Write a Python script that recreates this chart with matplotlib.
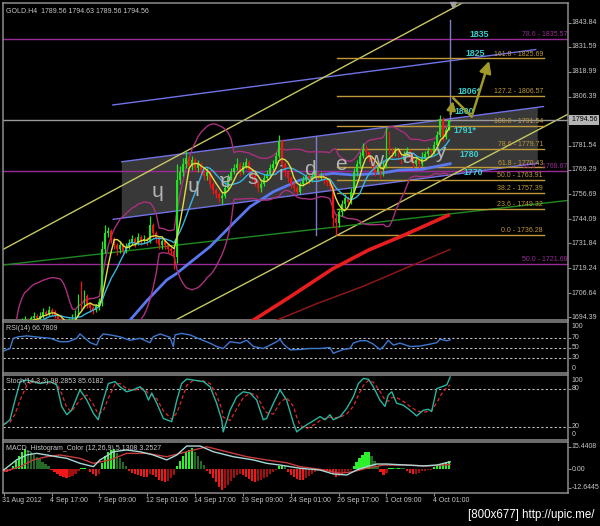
import numpy as np
import pandas as pd
import matplotlib
matplotlib.use("Agg")
import matplotlib.pyplot as plt
import matplotlib.transforms as mtrans

plt.rcParams['font.family'] = ['Liberation Sans', 'DejaVu Sans']
SMALL = 5.0

# ---------------- data (H4 bars, bar 0 = 31 Aug 2012 01:00) ----------------
open_first = 1659.0
closes = [1658, 1657, 1661, 1673, 1688, 1691, 1692, 1693, 1691, 1694,
          1695, 1694, 1695, 1697, 1696, 1698, 1697, 1695, 1693, 1692,
          1690, 1691, 1693, 1695, 1696, 1703, 1700, 1705, 1701, 1699,
          1698, 1700, 1702, 1729, 1737, 1738, 1734, 1731, 1729, 1731,
          1728, 1730, 1732, 1734, 1732, 1735, 1733, 1734, 1733, 1741,
          1737, 1734, 1731, 1733, 1731, 1729, 1728, 1725, 1764, 1768,
          1772, 1775, 1771, 1774, 1770, 1772, 1769, 1766, 1768, 1762,
          1759, 1757, 1755, 1756, 1760, 1765, 1768, 1770, 1772, 1768,
          1771, 1773, 1769, 1766, 1763, 1760, 1762, 1765, 1767, 1770,
          1772, 1776, 1784, 1772, 1768, 1765, 1762, 1760, 1758, 1762,
          1764, 1766, 1764, 1766, 1767, 1765, 1766, 1764, 1763, 1761,
          1745, 1742, 1748, 1752, 1755, 1753, 1758, 1768, 1772, 1776,
          1780, 1778, 1775, 1771, 1768, 1770, 1767, 1772, 1788, 1779,
          1777, 1779, 1776, 1774, 1777, 1779, 1775, 1772, 1774, 1772,
          1775, 1777, 1779, 1778, 1782, 1787, 1795, 1786, 1789.56, 1794.56]
highs = [1661, 1659, 1662, 1676, 1691, 1693, 1694, 1695, 1694, 1695,
         1697, 1696, 1697, 1699, 1698, 1700, 1699, 1698, 1696, 1694,
         1693, 1692, 1694, 1696, 1698, 1706, 1713, 1708, 1706, 1702,
         1700, 1701, 1704, 1733, 1741, 1740, 1739, 1735, 1732, 1733,
         1732, 1732, 1734, 1736, 1735, 1737, 1736, 1736, 1735, 1746,
         1742, 1738, 1735, 1734, 1734, 1732, 1730, 1730, 1772, 1771,
         1775, 1779, 1776, 1776, 1775, 1774, 1773, 1770, 1770, 1769,
         1763, 1760, 1758, 1758, 1762, 1767, 1770, 1772, 1775, 1773,
         1773, 1775, 1774, 1770, 1767, 1764, 1764, 1767, 1769, 1772,
         1774, 1778, 1787, 1785, 1773, 1769, 1766, 1763, 1761, 1763,
         1766, 1767, 1767, 1768, 1769, 1768, 1768, 1767, 1765, 1764,
         1762, 1747, 1750, 1754, 1757, 1756, 1760, 1770, 1774, 1778,
         1783, 1782, 1779, 1776, 1772, 1772, 1771, 1774, 1791, 1789,
         1781, 1781, 1780, 1777, 1779, 1781, 1780, 1776, 1776, 1775,
         1778, 1779, 1781, 1780, 1784, 1789, 1797, 1796, 1791, 1794.63]
lows = [1656, 1655, 1656, 1660, 1671, 1687, 1690, 1691, 1690, 1690,
        1693, 1693, 1693, 1694, 1695, 1695, 1695, 1694, 1692, 1690,
        1688, 1689, 1690, 1692, 1694, 1695, 1698, 1699, 1699, 1697,
        1696, 1697, 1698, 1700, 1727, 1735, 1732, 1729, 1726, 1727,
        1726, 1727, 1729, 1731, 1730, 1731, 1731, 1732, 1731, 1732,
        1735, 1732, 1729, 1729, 1729, 1727, 1726, 1719, 1722, 1762,
        1766, 1770, 1769, 1769, 1768, 1768, 1767, 1764, 1764, 1760,
        1757, 1755, 1753, 1752, 1755, 1759, 1764, 1767, 1769, 1766,
        1767, 1770, 1767, 1764, 1761, 1758, 1758, 1761, 1764, 1766,
        1769, 1771, 1775, 1770, 1766, 1763, 1760, 1758, 1757, 1757,
        1761, 1763, 1762, 1763, 1765, 1763, 1764, 1762, 1761, 1759,
        1740, 1736.3, 1740, 1746, 1750, 1751, 1752, 1757, 1766, 1770,
        1775, 1776, 1773, 1769, 1766, 1767, 1765, 1766, 1770, 1777,
        1775, 1776, 1774, 1772, 1773, 1776, 1773, 1770, 1771, 1770,
        1771, 1774, 1776, 1776, 1777, 1781, 1786, 1784, 1785, 1789.56]

# long moving averages
blue_ma_bars = [40, 42.2, 48, 54.5, 57.9, 63, 69, 76.8, 82.4, 90.2, 99.1, 105.8, 110.1, 116.8, 125.9, 132.5, 140, 149.3]
blue_ma_vals = [1689, 1692.9, 1703, 1713.3, 1716.7, 1723, 1730.2, 1742.1, 1750.5, 1758.1, 1764.0, 1766.5, 1767.4, 1766.6, 1767.4, 1769.1, 1769.5, 1772.3]
red_ma_bars = [82, 96, 110, 122, 133, 149.2]
red_ma_vals = [1691.5, 1705, 1719, 1728.5, 1735.5, 1746.5]
dred_ma_bars = [89, 105, 120, 133, 149.2]
dred_ma_vals = [1691.5, 1701.5, 1710, 1718.4, 1728.8]

# drawn objects
fib_pcts = ["0.0", "23.6", "38.2", "50.0", "61.8", "78.6", "100.0", "127.2", "161.8"]
fib_prices = [1736.28, 1749.32, 1757.39, 1763.91, 1770.43, 1779.71, 1791.54, 1806.57, 1825.69]
fib_span = [111.4, 180.6]
fib2_pcts = ["78.6", "61.8", "50.0"]
fib2_prices = [1835.57, 1768.67, 1721.68]
chan_up = [(39.5, 1773.3), (180.5, 1801.3)]
chan_lo = [(36.6, 1744.1), (178.6, 1772.5)]
chan_top = [(36.5, 1802.1), (177.9, 1830.2)]
yel_up = [(0, 1729.0), (153.6, 1854.0)]
yel_lo = [(57.6, 1693.1), (188.8, 1797.5)]
green_line = [(-0.2, 1720.9), (188.8, 1753.7)]
vlines_obj = [(104.4, 1736.2, 1785.6), (149.4, 1794.0, 1845.2)]
target_labels = ["1835", "1825", "1806*", "1800", "1791*", "1780", "1770"]
target_bars = [155.9, 154.3, 151.9, 150.9, 150.3, 152.3, 153.6]
target_prices = [1837.6, 1828.0, 1808.8, 1798.7, 1788.9, 1777.2, 1767.7]
arrow_path_bars = [149.3, 150.4, 156.5, 162.6]
arrow_path_prices = [1796.2, 1805.5, 1796.2, 1825.8]
word_letters = ["ɥ", "ɥ", "ɐ", "s", "i", "d", "e", "w", "a", "y"]
word_bars = [51.3, 63.3, 74.3, 83.4, 92.7, 102.4, 112.7, 124.2, 135.1, 145.9]
word_prices = [1758.4, 1760.9, 1763.5, 1765.0, 1766.9, 1769.4, 1771.9, 1773.9, 1775.6, 1777.9]

price_ticks = [1843.84, 1831.59, 1818.99, 1806.39, 1781.54, 1769.29, 1756.69,
               1744.09, 1731.84, 1719.24, 1706.64, 1694.39]
bid_price = 1794.56
date_tick_bars = [0, 16, 32, 48, 64, 80, 96, 112, 128, 144]
date_tick_labels = ["31 Aug 2012", "4 Sep 17:00", "7 Sep 09:00", "12 Sep 01:00", "14 Sep 17:00",
                    "19 Sep 09:00", "24 Sep 01:00", "26 Sep 17:00", "1 Oct 09:00", "4 Oct 01:00"]

# RSI(14)
rsi_bars = [0, 2.1, 3.2, 4.9, 7.7, 12.1, 15.5, 18.8, 21.6, 24.4, 25.5, 27.2, 28.9, 31.1, 32.2, 33.3,
            35.6, 38.9, 42.2, 45.6, 48.9, 50, 52.3, 55.6, 56.7, 57.3, 59.5, 62.3, 65.7, 69, 71.2,
            73.4, 75.7, 79, 81.3, 83.5, 86.8, 89.1, 91.3, 92.4, 93.5, 95.8, 99.1, 102.4, 105.8,
            109.1, 110.2, 111.4, 113.6, 115.8, 116.9, 119.2, 121.4, 123.6, 125.8, 127, 128.6,
            130.3, 132.5, 135.9, 139.2, 142.6, 144.8, 145.9, 148.2, 149.3]
rsi_vals = [44, 49, 70, 73, 75, 72, 70, 63, 63, 70, 79, 70, 61, 56, 72, 79,
            77, 73, 66, 70, 61, 73, 79, 72, 53, 77, 80, 77, 68, 60, 53,
            49, 63, 60, 66, 53, 49, 56, 63, 68, 58, 46, 47, 49, 49,
            51, 39, 42, 47, 49, 60, 65, 65, 58, 47, 53, 66,
            56, 60, 53, 54, 58, 61, 68, 65, 66.78]

# Stochastic(14,3,3)
sto_bars = [0, 2.1, 3.8, 5.5, 7.7, 9.9, 12.1, 15.5, 17.7, 19.4, 21.1, 22.7, 25.5, 27.8, 30, 31.6,
            33.3, 35, 37.2, 38.9, 41.1, 43.3, 45.6, 47.3, 48.4, 49.5, 51.2, 53.4, 56.2, 57.9,
            59.5, 61.2, 63.4, 66.8, 69, 71.2, 72.9, 73.4, 75.7, 77.9, 80.1, 82.4, 84.6, 86.8,
            87.9, 90.2, 92.4, 94.6, 96.9, 98, 99.1, 101.3, 104.1, 105.8, 107.5, 109.1, 110.2,
            112.5, 114.7, 116.9, 118.6, 120.3, 122, 123.6, 125.8, 127.5, 128.6, 129.8, 131.4,
            133.6, 135.9, 138.1, 140.3, 142, 143.1, 144.8, 146.5, 148.2, 149.3]
sto_main = [23, 31, 62, 91, 93.5, 91, 88, 91, 86, 52, 39, 46, 78, 62, 41, 31,
            62, 88, 91, 83, 75, 78, 83, 75, 62, 73, 57, 33, 28, 62,
            88, 95, 93.5, 91, 83, 57, 31, 12, 46, 67, 75, 73, 62, 31,
            33, 57, 78, 62, 25.5, 12, 16, 23, 31, 36, 31, 39, 31,
            36, 49, 67, 88, 96, 94.6, 83, 62, 52, 70, 75, 57,
            54, 46, 37, 46, 47.5, 44, 80, 83, 86, 98.29]
sto_signal = [25, 27, 40, 62, 85, 92, 90, 89, 88, 72, 50, 44, 62, 70, 55, 40,
              45, 65, 87, 88, 80, 77, 80, 79, 72, 70, 64, 45, 32, 42,
              62, 85, 93, 92, 88, 70, 48, 35, 30, 48, 66, 73, 69, 50,
              42, 40, 58, 66, 52, 35, 22, 17, 24, 30, 33, 35, 34,
              35, 40, 52, 70, 85, 93, 90, 76, 62, 60, 66, 66,
              60, 52, 45, 43, 44, 45, 58, 72, 82, 85.62]

# MACD histogram (one value per bar) and lines
macd_hist = [-1.5, -2, -1, 2, 6, 9, 12, 14, 13, 11.5, 10, 8.5, 7, 5, 3.5, 2,
             -0.5, -2, -3.5, -4.5, -5.5, -6, -5.5, -4.5, -3, -1, 0.8, 1, 0.5, -2,
             -3.5, -4.5, -3, 4, 9, 12, 13.5, 13.7, 11, 8, 5, 2,
             -1, -2.5, -3.5, -4, -4.5, -5, -5, -3.5, -4, -5.5, -7, -8, -8.5, -8, -6, -4,
             2, 6, 9, 12, 13.5, 14.3, 12, 9, 6, 3,
             -1, -3, -6, -9, -12, -14, -13, -11, -8, -6, -4, -3,
             -4, -5, -6.5, -8, -8.5, -8, -7, -6, -5, -3.5, -2, -0.5,
             2.5, 3.2, 2, -2, -4, -5.5, -6.5, -7, -7.3, -6,
             -4.5, -3, -2, -1.5, -1, -1, -1.5, -2, -3.5, -5, -4.5, -3, -2, -1.5, -0.5,
             2, 5, 8, 10, 11.5, 12, 9, 5.5, 2.5, -2, -3.9, -2.5,
             0.8, 1.1, 0.8, 1.1, 0.8, 0.6, -1.5, -2.5, -3.2, -3, -2.2,
             -1.5, -1, -0.6, -0.3, 1.5, 2.5, 3.5, 4.5, 5.2, 6]
macd_main_bars = [0, 4.3, 7.7, 11, 14.4, 17.7, 21.1, 25.5, 30, 32.2, 36.7, 41.1, 45.6, 50, 54.5,
                  57.9, 61.2, 65.7, 70.1, 76.8, 83.5, 87.9, 92.4, 95.8, 99.1, 105.8, 110.2,
                  114.7, 118, 121.4, 124.7, 128.1, 134.8, 140.3, 144.8, 149.3]
macd_main_vals = [-0.5, 6.4, 9.8, 10.9, 9.8, 8.6, 7.5, 4.1, 1.8, 6.4, 12, 13.2, 12, 9.8, 6.4,
                  9.8, 15.9, 15.9, 12, 8.6, 6.4, 4.1, 2.9, 1.8, 0.7, -0.5, -3.2,
                  -3.9, -0.5, 1.8, 3.6, 3.6, 2.9, 2.3, 2.9, 5.13]
macd_sig_bars = [0, 5.5, 9.9, 14.4, 18.8, 25.5, 30, 35.6, 41.1, 47.8, 54.5, 61.2, 67.9, 74.6,
                 81.3, 87.9, 94.6, 99.1, 105.8, 112.5, 116.9, 121.4, 127, 134.8, 141.5, 149.3]
macd_sig_vals = [-1.6, 1.8, 6.4, 8.6, 9.8, 7.5, 4.1, 6.4, 10.9, 10.9, 8.6, 12, 15.4, 12,
                 8.6, 6.4, 4.5, 1.8, 0, -2.7, -1.6, 0.7, 2.9, 2.9, 2.3, 3.25]

# ---------------- style ----------------
BG = 'black'
FRAME = '#8C8C8C'
TXT = '#C8C8C8'
BULL = '#1EE61E'
BEAR = '#F01414'
FIB = '#C09A38'
PURP = '#9A2A96'
CHAN = '#7272E8'
YEL = '#C8C860'
CYAN_T = '#3CCFCF'
BB = '#A8307E'

W, H = 600.0, 526.0
XL = (-0.23, 188.7)
fig = plt.figure(figsize=(6, 5.26), dpi=100, facecolor=BG)


def add_pane(top_px, bot_px, ylim):
    a = fig.add_axes([3 / W, 1 - bot_px / H, 565 / W, (bot_px - top_px) / H], facecolor=BG)
    a.set_xlim(*XL)
    a.set_ylim(*ylim)
    a.set_xticks([])
    a.set_yticks([])
    for s in a.spines.values():
        s.set_color(FRAME)
        s.set_linewidth(1.1)
    return a


ax = add_pane(3, 320, (1693.02, 1853.83))
ax_rsi = add_pane(321.5, 373, (-1.5, 104.6))
ax_st = add_pane(375, 439.5, (0.0, 101.4))
ax_m = add_pane(441.5, 493, (-16.2, 19.0))


def right_label(a, y, s, **kw):
    tr = mtrans.offset_copy(a.get_yaxis_transform(), fig=fig, x=3.5, y=0, units='dots')
    a.text(1.0, y, s, transform=tr, ha='left', va='center', fontsize=SMALL, color=TXT,
           clip_on=False, **kw)


def right_ticks(a, vals):
    a.yaxis.tick_right()
    a.set_yticks(vals)
    a.tick_params(axis='y', length=2.5, width=0.8, color=FRAME, labelright=False)


# ---------------- main pane ----------------
xs = np.arange(len(closes))
c = np.array(closes, float)
o = np.array([open_first] + closes[:-1], float)
h = np.array(highs, float)
l = np.array(lows, float)

cu0, cu1 = chan_up
cl0, cl1 = chan_lo
fx0, fx1 = cu0[0], cl1[0]


def line_at(p0, p1, x):
    return p0[1] + (p1[1] - p0[1]) * (x - p0[0]) / (p1[0] - p0[0])


ax.fill([fx0, fx1, fx1, fx0],
        [line_at(cu0, cu1, fx0), line_at(cu0, cu1, fx1), line_at(cl0, cl1, fx1), line_at(cl0, cl1, fx0)],
        color='#383838', lw=0, zorder=1)

for pct, pr in zip(fib2_pcts, fib2_prices):
    ax.axhline(pr, color=PURP, lw=1, zorder=2)
    tr = mtrans.offset_copy(ax.get_yaxis_transform(), fig=fig, x=-1, y=1, units='dots')
    ax.text(1.0, pr, f"{pct} - {pr:.2f}", transform=tr, ha='right', va='bottom',
            fontsize=SMALL, color=PURP, zorder=7)

for seg, col in [(chan_up, CHAN), (chan_lo, CHAN), (chan_top, CHAN),
                 (yel_up, YEL), (yel_lo, YEL), (green_line, '#1F8A1F')]:
    ax.plot([seg[0][0], seg[1][0]], [seg[0][1], seg[1][1]], color=col, lw=1, zorder=2)

for bx, y0, y1 in vlines_obj:
    ax.plot([bx, bx], [y0, y1], color='#7C7CC8', lw=1, zorder=2)

for pct, pr in zip(fib_pcts, fib_prices):
    ax.plot(fib_span, [pr, pr], color=FIB, lw=1, zorder=2)
    ax.text(fib_span[1] - 0.3, pr + 0.4, f"{pct} - {pr:.2f}", ha='right', va='bottom',
            fontsize=SMALL, color=FIB, zorder=7)

ax.axhline(bid_price, color='#9A9A9A', lw=1, zorder=2)

ax.plot(dred_ma_bars, dred_ma_vals, color='#8C1616', lw=1.1, zorder=3)
ax.plot(red_ma_bars, red_ma_vals, color='#E81E1E', lw=2.6, zorder=3, solid_capstyle='butt')
ax.plot(blue_ma_bars, blue_ma_vals, color='#5A78F0', lw=2.0, zorder=4)

cs = pd.Series(c)
mid = cs.rolling(20, min_periods=5).mean()
sd = cs.rolling(20, min_periods=5).std(ddof=0)
ax.plot(xs, mid + 2 * sd, color=BB, lw=1, zorder=4)
ax.plot(xs, mid - 2 * sd, color=BB, lw=1, zorder=4)

up = c >= o
for mask, col in [(up, BULL), (~up, BEAR)]:
    ax.vlines(xs[mask], l[mask], h[mask], colors=col, lw=0.9, zorder=5)
    ax.bar(xs[mask], np.maximum(np.abs(c - o), 0.35)[mask], bottom=np.minimum(o, c)[mask],
           width=0.62, color=col, lw=0, zorder=5)

ax.plot(xs, cs.rolling(10, min_periods=1).mean(), color='#35B5E5', lw=1, zorder=6)
ax.plot(xs, cs.rolling(5, min_periods=1).mean(), color='#E0E040', lw=1, zorder=6)

for ch, bx, pr in zip(word_letters, word_bars, word_prices):
    ax.text(bx, pr, ch, ha='center', va='center', fontsize=15, color='#B4B4B4',
            family=['Liberation Sans', 'DejaVu Sans'], zorder=7)

for s, bx, pr in zip(target_labels, target_bars, target_prices):
    ax.text(bx, pr, s, ha='left', va='center', fontsize=6.3, fontweight='bold',
            color=CYAN_T, zorder=8)

ARW = '#A09828'
ab, ap = arrow_path_bars, arrow_path_prices
ax.annotate('', xy=(ab[1], ap[1]), xytext=(ab[0], ap[0]),
            arrowprops=dict(arrowstyle='-|>,head_length=0.5,head_width=0.25', color=ARW, lw=1.8), zorder=8)
ax.plot(ab[1:3], ap[1:3], color=ARW, lw=1.8, zorder=8)
ax.annotate('', xy=(ab[3], ap[3]), xytext=(ab[2], ap[2]),
            arrowprops=dict(arrowstyle='-|>,head_length=0.7,head_width=0.35', color=ARW, lw=1.8), zorder=8)

ax.plot([150.4], [1852.6], marker='v', ms=4.5, color='#A0A0A0', clip_on=False, zorder=9)

right_ticks(ax, price_ticks + [bid_price])
for p in price_ticks:
    right_label(ax, p, f"{p:.2f}")
tr = mtrans.offset_copy(ax.get_yaxis_transform(), fig=fig, x=2, y=0, units='dots')
ax.text(1.0, bid_price, " 1794.56", transform=tr, ha='left', va='center', fontsize=SMALL,
        color='#000000', clip_on=False,
        bbox=dict(boxstyle='square,pad=0.2', fc='#B4B4B4', ec='none'))

ax.text(0.006, 0.983, "GOLD.H4  1789.56 1794.63 1789.56 1794.56", transform=ax.transAxes,
        ha='left', va='top', fontsize=SMALL, color=TXT)

# ---------------- RSI ----------------
for lv in (70, 50, 30):
    ax_rsi.axhline(lv, color='#BEBEBE', lw=0.8, ls=(0, (2, 2)))
ax_rsi.plot(rsi_bars, rsi_vals, color='#3C78D0', lw=1)
right_ticks(ax_rsi, [70, 50, 30])
for lab, yv in [("100", 93.3), ("70", 71.0), ("50", 50.8), ("30", 30.0), ("0", 7.9)]:
    right_label(ax_rsi, yv, lab)
ax_rsi.text(0.006, 0.93, "RSI(14) 66.7809", transform=ax_rsi.transAxes, ha='left', va='top',
            fontsize=SMALL, color=TXT)

# ---------------- Stochastic ----------------
for lv in (80, 20):
    ax_st.axhline(lv, color='#BEBEBE', lw=0.8, ls=(0, (2, 2)))
ax_st.plot(sto_bars, sto_signal, color='#E02828', lw=0.9, ls=(0, (3, 2)))
ax_st.plot(sto_bars, sto_main, color='#2AB4A0', lw=1)
right_ticks(ax_st, [80, 20])
for lab, yv in [("100", 92.2), ("80", 80.0), ("20", 21.0), ("0", 7.1)]:
    right_label(ax_st, yv, lab)
ax_st.text(0.006, 0.95, "Stoch(14,3,3) 98.2853 85.6182", transform=ax_st.transAxes,
           ha='left', va='top', fontsize=SMALL, color=TXT, zorder=10)

# ---------------- MACD ----------------
hv = np.array(macd_hist, float)
prev = np.concatenate([[hv[0]], hv[:-1]])
cols = np.where(hv >= 0, np.where(hv >= prev, '#2CF02C', '#246A24'),
                np.where(hv <= prev, '#F01818', '#A01010'))
ax_m.bar(np.arange(len(hv)), hv, width=0.72, color=cols, lw=0, zorder=2)
ax_m.plot(macd_sig_bars, macd_sig_vals, color='#C83C3C', lw=1, zorder=3)
ax_m.plot(macd_main_bars, macd_main_vals, color='#A8D8D8', lw=1, zorder=3)
right_ticks(ax_m, [15.4408, 0.0, -12.6445])
for lab, yv in [("15.4408", 15.4408), ("0.00", 0.0), ("-12.6445", -12.6445)]:
    right_label(ax_m, yv, lab)
ax_m.text(0.006, 0.93, "MACD_Histogram_Color (12,26,9) 5.1308 3.2527", transform=ax_m.transAxes,
          ha='left', va='top', fontsize=SMALL, color=TXT, zorder=10)

ax_m.set_xticks(date_tick_bars)
ax_m.tick_params(axis='x', length=2.5, width=0.8, color=FRAME, labelbottom=False, direction='out')
dtr = mtrans.offset_copy(ax_m.get_xaxis_transform(), fig=fig, x=-1.5, y=-7, units='dots')
for bx, lab in zip(date_tick_bars, date_tick_labels):
    ax_m.text(bx, 0.0, lab, transform=dtr, ha='left', va='center', fontsize=SMALL, color=TXT,
              clip_on=False)

fig.text(594 / W, 1 - 515 / H, "[800x677] http://upic.me/", ha='right', va='center',
         fontsize=8.3, color='white')

fig.savefig('out.png', dpi=100, facecolor=BG)
